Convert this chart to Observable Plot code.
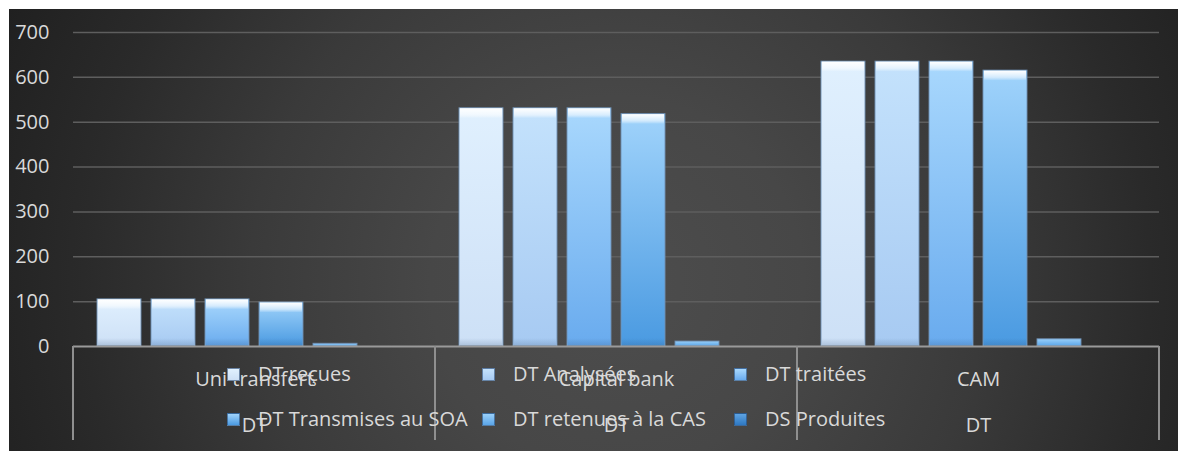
<!DOCTYPE html>
<html>
<head>
<meta charset="utf-8">
<script src="https://cdn.jsdelivr.net/npm/d3@7"></script>
<script src="https://cdn.jsdelivr.net/npm/@observablehq/plot@0.6"></script>
<style>
  html, body { margin: 0; padding: 0; background: #ffffff; }
  body { position: relative; width: 1178px; height: 451px; overflow: hidden; font-family: "Open Sans", sans-serif; }
  #bg { position: absolute; left: 9px; top: 9px; width: 1169px; height: 442px;
        background: radial-gradient(circle at 52% 62%, #4d4d4d 0%, #474747 28%, #3a3a3a 55%, #2a2a2a 80%, #202020 100%); }
  #chart { position: absolute; left: 0; top: 0; }
  #legend { position: absolute; left: 0; top: 0; width: 1178px; height: 451px; pointer-events: none; }
  .item { position: absolute; height: 20px; display: flex; align-items: center; white-space: nowrap;
          font-family: "Open Sans", sans-serif; font-size: 20px; line-height: 20px; color: #d9d9d9; }
  .sw { width: 13px; height: 13px; margin-right: 18px; box-sizing: border-box; border: 1px solid rgba(40,70,110,0.6); }
</style>
</head>
<body>
<div id="bg"></div>
<div id="chart"></div>
<div id="legend"></div>
<script>
// ---- data ----
const categories = ["Uni transfert", "Capital bank", "CAM"];
const outerLabel = "DT";
const series = ["DT reçues", "DT Analysées", "DT traitées", "DT Transmises au SOA", "DT retenues à la CAS", "DS Produites"];
const uniTransfert = [105, 105, 105, 98, 6, 0];
const capitalBank = [531, 531, 531, 518, 11, 0];
const cam = [635, 635, 635, 615, 16, 0];
const yTicks = [0, 100, 200, 300, 400, 500, 600, 700];

// ---- styles ----
const barTop = ["#e0f0fe", "#c4e2fc", "#a9d8fd", "#a0d3fb", "#9ad0fa", "#5ea3e2"];
const barBottom = ["#cde0f6", "#a7caf2", "#69abee", "#4a9ae1", "#5aa5e8", "#2e78c2"];

const values = [uniTransfert, capitalBank, cam];
const data = categories.flatMap((c, i) => series.map((s, j) => ({category: c, series: s, value: values[i][j]})));
const bevelData = data.filter(d => d.value >= 40);

const chart = Plot.plot({
  width: 1178,
  height: 451,
  marginLeft: 72,
  marginRight: 18,
  marginTop: 32,
  marginBottom: 105,
  style: {background: "transparent", fontFamily: "Open Sans", fontSize: "20px", color: "#d9d9d9", overflow: "visible"},
  fx: {domain: categories, padding: 0, label: null},
  x: {domain: series, paddingInner: 0.18, paddingOuter: 0.39, axis: null},
  y: {domain: [0, 700], axis: null, label: null},
  color: {domain: series, range: series.map((s, i) => `url(#bar${i})`)},
  marks: [
    Plot.gridY(yTicks.filter(t => t > 0), {stroke: "#5e5e5e", strokeOpacity: 1, strokeWidth: 1.5}),
    Plot.axisY(yTicks, {tickSize: 0, tickPadding: 24, fontSize: 20, fill: "#d9d9d9", label: null}),
    Plot.axisFx({anchor: "bottom", tickSize: 0, tickPadding: 7, fontSize: 20, fill: "#d9d9d9",
                 lineHeight: 2.3, tickFormat: d => d + "\n" + outerLabel, label: null}),
    Plot.barY(data, {fx: "category", x: "series", y: "value", fill: "series",
                     stroke: "#6f8fb2", strokeWidth: 1, strokeOpacity: 0.9}),
    Plot.barY(bevelData, {fx: "category", x: "series", y1: "value", y2: "value",
                          insetTop: 0.5, insetBottom: -10, insetLeft: 1, insetRight: 1, fill: "url(#bevelTop)"}),
    Plot.barY(bevelData, {fx: "category", x: "series", y1: 0, y2: 0,
                          insetTop: -8, insetLeft: 1, insetRight: 1, fill: "url(#bevelBottom)"}),
    Plot.ruleY([0], {stroke: "#9a9a9a", strokeWidth: 2})
  ]
});

document.getElementById("chart").appendChild(chart);

// gradients
const svg = d3.select(chart);
const defs = svg.insert("defs", ":first-child");
series.forEach((s, i) => {
  const g = defs.append("linearGradient").attr("id", `bar${i}`).attr("x1", 0).attr("y1", 0).attr("x2", 0).attr("y2", 1);
  g.append("stop").attr("offset", "0%").attr("stop-color", barTop[i]);
  g.append("stop").attr("offset", "100%").attr("stop-color", barBottom[i]);
});
{
  const g = defs.append("linearGradient").attr("id", "bevelTop").attr("x1", 0).attr("y1", 0).attr("x2", 0).attr("y2", 1);
  g.append("stop").attr("offset", "0%").attr("stop-color", "#ffffff").attr("stop-opacity", 1);
  g.append("stop").attr("offset", "70%").attr("stop-color", "#ffffff").attr("stop-opacity", 0.55);
  g.append("stop").attr("offset", "100%").attr("stop-color", "#ffffff").attr("stop-opacity", 0.1);
  const b = defs.append("linearGradient").attr("id", "bevelBottom").attr("x1", 0).attr("y1", 0).attr("x2", 0).attr("y2", 1);
  b.append("stop").attr("offset", "0%").attr("stop-color", "#20406a").attr("stop-opacity", 0.0);
  b.append("stop").attr("offset", "100%").attr("stop-color", "#20406a").attr("stop-opacity", 0.2);
}

// category separators (from the fx scale)
const fx = chart.scale("fx");
const yScale = chart.scale("y");
const y0 = yScale.apply(0);
const bounds = fx.domain.map(d => fx.apply(d)).concat([fx.apply(fx.domain[fx.domain.length - 1]) + fx.bandwidth]);
svg.append("g").selectAll("line").data(bounds).join("line")
  .attr("x1", d => d).attr("x2", d => d)
  .attr("y1", y0).attr("y2", y0 + 94)
  .attr("stroke", "#8f8f8f").attr("stroke-width", 2);

// legend overlay (3 columns x 2 rows)
const legend = d3.select("#legend");
const colX = [227, 482, 734];
const rowY = [364, 409];
series.forEach((s, i) => {
  const item = legend.append("div").attr("class", "item")
    .style("left", colX[i % 3] + "px").style("top", rowY[Math.floor(i / 3)] + "px");
  item.append("div").attr("class", "sw")
    .style("background", `linear-gradient(${barTop[i]}, ${barBottom[i]})`);
  item.append("span").text(s);
});
</script>
</body>
</html>
